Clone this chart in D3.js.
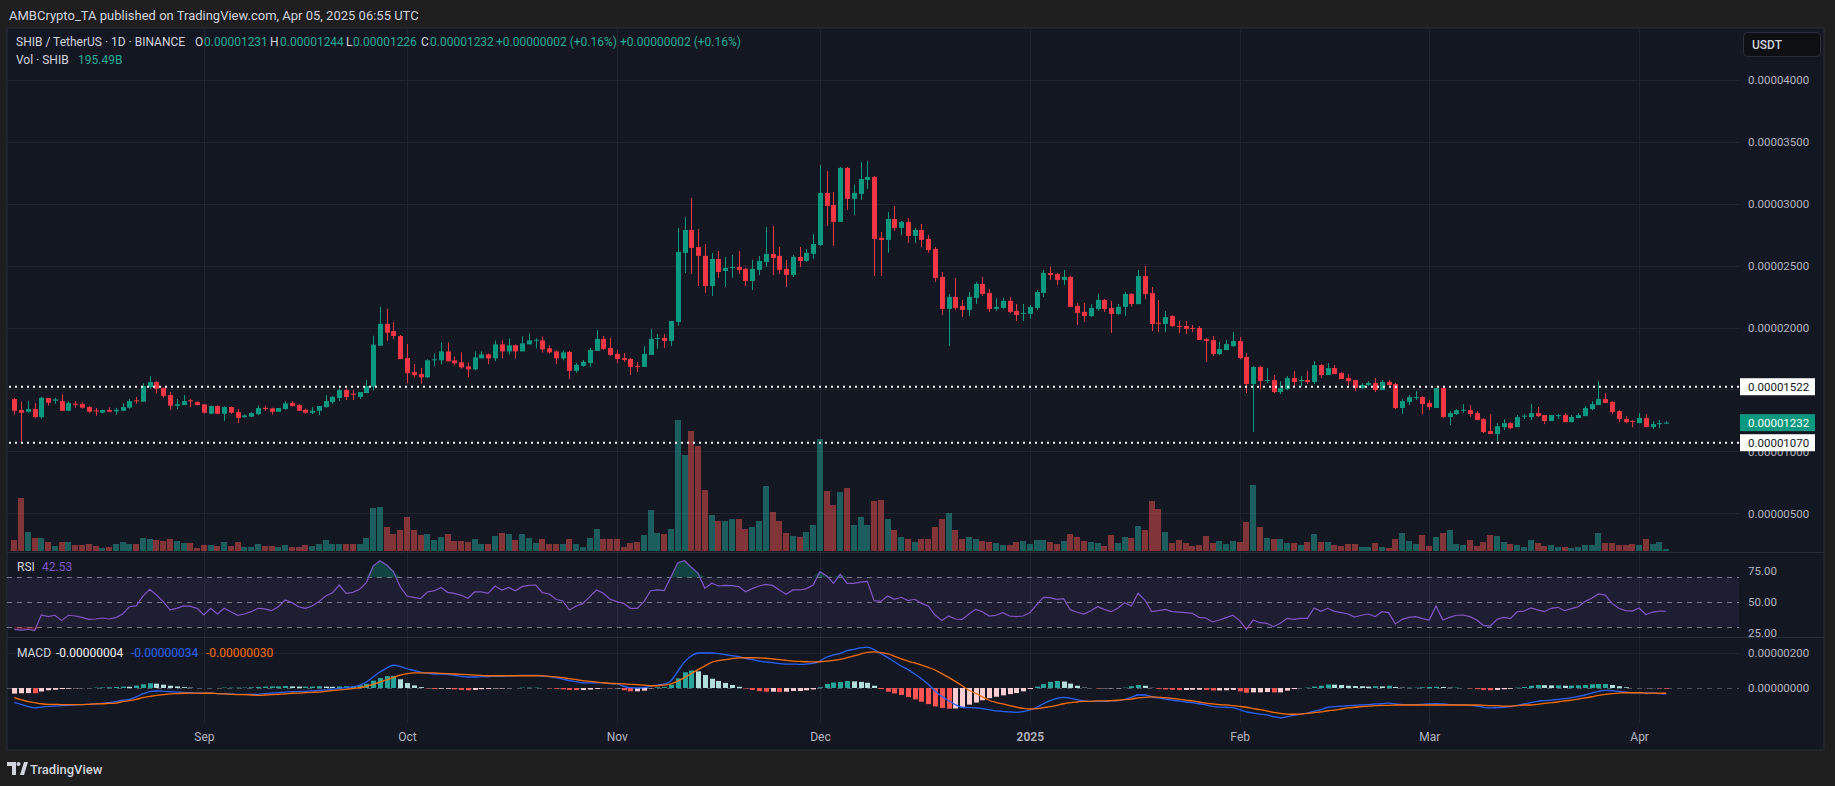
<!DOCTYPE html>
<html>
<head>
<meta charset="utf-8">
<script src="https://cdn.jsdelivr.net/npm/d3@7"></script>
<style>
  body { margin: 0; background: #1e1e1e; overflow: hidden; }
  svg text { font-family: Roboto, "Liberation Sans", sans-serif; }
</style>
</head>
<body>
<svg id="chart"></svg>
<script>
// prices in 1e-6 USDT, one candle per day from Aug 4 2024
var opens = [
  14.22,13.34,13.20,13.42,12.77,14.31,14.09,14.06,13.28,13.85, 13.82,13.58,13.31,13.12,13.34,13.23,13.28,13.53,14.12,14.01,
  15.19,15.60,15.11,14.55,13.69,13.74,14.12,13.98,13.79,13.04, 13.66,13.04,13.58,13.17,12.77,12.80,13.01,13.52,13.47,13.20,
  13.42,13.90,13.74,13.36,13.12,13.28,13.58,13.98,14.31,14.95, 14.66,14.39,14.71,15.22,18.53,20.30,19.71,19.31,17.53,16.40,
  16.24,15.98,17.35,17.35,18.07,17.35,17.19,16.86,16.62,17.51, 17.83,17.51,18.64,18.07,18.56,18.07,18.64,18.93,18.96,18.32,
  18.07,17.51,18.03,16.50,16.90,17.14,18.11,19.08,18.35,17.87, 17.54,17.46,16.90,16.82,17.79,19.08,19.16,18.92,20.45,26.02,
  27.87,26.50,25.78,23.35,25.53,24.56,24.81,24.89,24.73,23.76, 24.65,25.29,25.94,25.78,24.73,24.24,25.70,25.37,25.94,26.66,
  30.86,29.89,28.52,32.88,30.38,30.78,31.91,32.15,27.23,27.07, 28.76,28.04,28.52,27.39,27.87,27.15,26.34,24.08,21.50,22.47,
  21.74,21.42,22.39,23.52,22.79,21.50,21.58,22.15,21.34,21.10, 21.10,21.58,22.79,24.40,24.32,23.84,24.08,21.74,21.26,20.93,
  21.50,22.23,21.58,21.10,21.66,22.70,21.89,24.15,22.78,20.39, 20.28,20.92,20.12,20.12,19.96,19.96,19.07,18.99,17.86,18.18,
  18.50,18.91,17.62,15.44,16.81,15.68,15.76,14.79,15.03,15.92, 15.68,15.76,15.60,16.97,16.16,16.73,16.32,15.92,15.76,15.11,
  15.36,15.52,14.95,15.60,15.44,13.50,13.98,14.30,14.38,13.90, 13.50,15.11,12.77,13.01,13.28,13.33,13.09,12.61,11.64,11.40,
  11.96,12.28,11.96,12.80,12.77,13.09,12.93,12.45,12.85,12.93, 12.36,12.69,12.85,13.41,13.74,14.22,13.98,13.25,12.61,12.47,
  12.28,12.69,11.96,12.20,12.31
];
var highs = [
  14.31,14.01,14.06,13.90,14.41,14.31,14.33,14.60,14.04,14.06, 13.96,13.66,13.50,13.39,13.55,13.52,13.88,14.22,14.39,15.49,
  16.08,15.68,15.17,14.79,14.22,14.55,14.25,14.04,13.82,13.71, 13.71,13.66,13.61,13.42,13.01,13.17,13.69,13.69,13.52,13.50,
  14.04,14.06,13.82,13.45,13.58,13.66,14.55,14.47,15.06,15.06, 14.95,14.79,15.76,19.34,21.67,21.51,20.44,19.39,18.66,17.05,
  16.72,17.43,17.91,18.80,18.80,17.67,18.00,17.19,18.07,18.07, 17.91,18.96,18.96,19.12,18.64,19.28,19.52,19.12,19.28,18.56,
  18.15,18.15,18.11,17.14,17.38,18.35,19.80,19.32,19.16,18.19, 17.95,17.54,17.22,18.51,19.88,19.48,19.48,20.53,28.04,28.92,
  30.46,27.95,26.74,26.02,26.18,25.70,25.86,26.18,24.81,25.45, 25.78,28.12,28.20,26.50,25.45,25.86,26.50,26.34,27.55,33.12,
  32.64,30.94,32.96,32.96,31.51,33.36,33.44,32.23,27.71,29.33, 29.81,28.60,28.84,28.04,28.36,27.47,26.50,24.48,22.71,24.00,
  22.23,22.87,23.68,24.08,23.11,22.39,22.39,22.47,21.90,21.90, 21.82,23.03,24.65,24.89,24.40,24.65,24.16,21.98,21.98,21.90,
  22.71,22.31,22.15,21.90,22.87,22.78,24.64,24.96,23.26,22.22, 21.33,21.00,20.52,20.52,20.20,20.12,19.15,19.31,18.83,18.99,
  19.63,19.23,17.94,16.89,16.89,16.73,16.16,15.68,16.08,16.48, 16.08,16.48,17.29,17.05,17.13,16.97,16.40,16.24,15.76,15.52,
  15.68,15.92,15.76,15.76,15.52,14.23,14.54,14.87,14.46,14.14, 15.11,15.19,13.25,13.41,13.82,13.74,13.25,12.69,13.01,12.28,
  12.61,12.36,12.93,13.01,13.82,13.58,12.93,12.93,13.01,13.09, 12.93,13.09,13.66,14.06,15.67,14.70,14.06,13.33,12.85,12.53,
  13.09,13.01,12.45,12.53,12.44
];
var lows = [
  12.96,10.78,13.12,12.69,12.63,13.69,13.85,13.28,13.23,13.53, 13.45,13.12,12.88,13.09,13.18,12.96,13.26,13.45,13.85,14.01,
  15.06,14.66,14.33,13.36,13.42,13.74,13.58,13.71,13.04,13.04, 13.01,12.45,13.04,12.29,12.71,12.77,12.93,13.26,12.96,13.20,
  13.36,13.61,13.26,13.04,13.01,12.93,13.53,13.82,14.06,14.15, 14.15,14.22,14.71,14.92,18.53,18.93,19.07,17.45,15.51,15.98,
  15.46,15.90,16.86,17.03,17.27,16.94,16.70,15.98,16.54,17.51, 17.03,17.27,17.51,17.83,17.51,18.07,18.64,18.32,17.99,17.91,
  17.03,17.35,15.85,16.34,16.82,16.82,18.11,18.19,17.71,17.14, 17.22,16.17,16.41,16.82,17.79,18.27,18.35,18.51,20.13,24.40,
  24.32,23.35,22.79,22.55,24.00,23.27,24.00,24.32,23.35,23.03, 24.24,24.89,24.24,24.32,23.27,24.08,24.89,25.29,25.53,26.58,
  28.20,26.58,28.52,29.49,29.08,30.30,31.18,24.16,24.16,26.02, 27.79,27.47,26.83,26.83,26.50,26.02,23.68,21.01,18.51,21.42,
  20.85,20.93,21.90,22.55,21.26,21.34,21.50,21.18,20.53,20.53, 20.69,21.42,22.47,23.84,23.43,23.43,21.66,20.21,20.45,20.85,
  21.34,21.26,19.56,21.01,20.93,21.68,21.89,22.30,19.71,19.63, 19.63,20.04,19.55,19.47,19.63,18.99,17.21,17.70,17.78,18.18,
  18.42,17.45,14.71,11.56,15.03,15.52,14.71,14.63,14.95,15.19, 15.27,15.44,15.44,15.92,16.16,16.24,15.84,15.36,14.87,15.03,
  15.27,14.79,14.95,15.27,13.42,13.02,13.74,14.14,13.01,13.33, 13.50,12.69,12.12,12.93,13.09,12.80,12.53,11.48,11.40,10.83,
  11.72,11.80,11.96,12.61,12.53,12.77,12.20,12.45,12.61,12.36, 12.36,12.69,12.85,13.33,13.74,13.90,13.01,12.36,12.28,11.96,
  12.28,11.96,11.80,11.88,12.26
];
var closes = [
  13.28,13.12,13.42,12.77,14.33,13.93,14.20,13.28,13.90,13.77, 13.53,13.20,13.23,13.34,13.20,13.36,13.58,14.06,14.04,15.27,
  15.60,15.06,14.47,13.69,13.82,14.06,14.04,13.74,13.12,13.66, 13.04,13.58,13.12,12.71,12.90,13.09,13.50,13.42,13.20,13.50,
  13.88,13.66,13.28,13.12,13.28,13.66,14.06,14.41,14.95,14.39, 14.57,14.79,15.27,18.61,20.30,19.58,19.31,17.45,16.32,16.16,
  15.98,17.35,17.43,18.07,17.27,17.11,16.78,16.62,17.59,17.83, 17.51,18.64,18.07,18.56,18.07,18.72,18.96,19.01,18.24,17.99,
  17.51,17.99,16.50,16.98,17.22,18.19,19.08,18.27,17.79,17.46, 17.38,16.82,16.82,17.87,19.08,19.16,18.92,20.53,26.10,27.87,
  26.42,25.78,23.35,25.53,24.48,24.81,24.89,24.65,23.76,24.73, 25.37,25.94,25.61,24.65,24.24,25.70,25.37,26.02,26.74,30.86,
  29.81,28.52,32.88,30.38,30.86,31.99,32.15,27.15,27.07,28.76, 28.04,28.52,27.39,27.87,27.07,26.26,24.00,21.50,22.47,21.58,
  21.42,22.47,23.52,22.71,21.50,21.66,22.15,21.26,21.01,21.18, 21.66,22.87,24.40,24.24,23.84,24.08,21.66,21.18,20.93,21.58,
  22.23,21.50,21.10,21.66,22.71,21.89,24.15,22.70,20.28,20.31, 20.84,20.12,20.04,19.88,19.88,18.99,18.91,17.86,18.26,18.66,
  18.91,17.53,15.44,16.81,15.68,15.76,14.79,15.11,15.92,15.60, 15.76,15.60,16.97,16.16,16.73,16.24,15.84,15.68,15.11,15.36,
  15.52,14.95,15.60,15.36,13.50,14.06,14.38,14.38,13.82,13.58, 15.11,12.77,13.09,13.33,13.36,13.01,12.53,11.56,11.40,12.04,
  12.28,11.88,12.77,12.88,13.09,12.85,12.45,12.93,12.93,12.36, 12.77,12.93,13.50,13.82,14.22,13.90,13.17,12.61,12.36,12.39,
  12.69,11.96,12.20,12.28,12.32
];
// volume in trillions of SHIB
var volumes = [
  1.1,5.3,1.9,1.3,1.3,0.9,0.5,0.9,0.9,0.6, 0.6,0.7,0.5,0.3,0.4,0.7,0.9,0.7,0.7,1.3,
  1.2,1.1,1.0,1.2,1.0,0.8,0.8,0.3,0.6,0.6, 0.5,0.9,0.5,0.9,0.4,0.4,0.7,0.5,0.5,0.4,
  0.6,0.4,0.4,0.6,0.5,0.7,1.1,0.7,0.7,0.7, 0.7,0.7,1.3,4.3,4.4,2.4,1.7,2.1,3.4,2.1,
  1.6,1.7,1.1,1.4,1.7,1.0,1.0,0.9,1.2,0.7, 0.7,1.5,1.8,1.7,1.1,1.7,1.3,0.8,1.2,0.7,
  0.7,0.7,1.2,0.7,0.4,1.3,2.2,1.2,1.2,1.2, 0.4,0.8,0.9,1.6,4.1,1.8,1.7,2.2,13.1,9.6,
  12.0,10.5,6.1,3.6,3.0,3.0,3.2,3.2,2.2,2.4, 3.0,6.5,3.9,3.0,1.8,1.5,1.4,1.9,2.6,11.2,
  6.0,4.6,5.9,6.3,2.6,3.4,2.6,5.0,5.1,3.2, 2.1,1.4,1.2,0.9,1.2,1.2,2.4,3.2,3.8,2.1,
  1.2,1.4,1.2,1.0,0.9,0.8,0.6,0.6,0.9,1.0, 0.7,1.1,1.1,0.9,0.7,1.0,1.7,1.4,1.0,0.9,
  0.8,0.5,1.6,0.8,1.4,1.3,2.5,2.1,5.0,4.2, 1.9,0.8,1.1,0.8,0.5,0.6,1.5,0.8,1.0,0.7,
  1.0,0.9,2.9,6.6,2.4,1.3,1.2,1.2,0.8,0.8, 0.6,0.9,1.7,0.9,0.9,0.6,0.5,0.7,0.7,0.4,
  0.4,0.8,0.4,0.3,1.2,1.8,1.0,0.7,1.6,0.5, 1.4,1.8,2.1,0.7,0.6,1.1,0.5,0.9,1.6,1.5,
  0.9,0.7,0.6,0.4,1.1,0.8,0.5,0.6,0.4,0.4, 0.3,0.4,0.6,0.6,1.8,0.8,0.8,0.6,0.6,0.7,
  0.6,1.2,0.7,0.9,0.2
];
// RSI(14)
var rsiValues = [
  28.0,27.4,28.0,26.9,39.5,38.2,39.3,35.0,39.3,38.7, 37.6,36.0,36.3,37.1,36.3,37.4,40.3,46.2,46.8,54.8,
  60.2,55.6,50.3,43.6,44.9,46.8,46.5,44.9,39.5,44.9, 40.3,44.9,42.2,39.3,40.3,42.2,44.9,44.4,43.0,46.2,
  51.6,49.5,46.2,44.9,46.8,50.3,54.8,57.5,63.7,57.0, 57.8,60.2,65.6,79.0,83.3,79.8,74.5,62.4,54.8,53.8,
  52.7,58.1,58.9,61.8,57.8,57.0,55.4,53.0,58.1,58.1, 57.0,62.9,59.7,61.8,59.1,62.4,63.4,63.7,57.5,56.5,
  52.2,50.8,43.6,46.8,48.9,54.3,59.7,57.0,52.2,50.3, 48.9,44.9,44.9,50.3,59.1,59.7,59.1,70.4,81.7,83.3,
  78.0,73.1,61.0,65.1,62.9,63.4,63.2,62.4,58.3,60.8, 62.9,64.2,63.4,59.7,56.2,59.7,59.7,60.8,63.7,74.5,
  71.0,65.1,72.3,65.1,65.1,66.1,66.7,51.1,50.5,54.8, 52.2,53.8,51.1,52.2,48.9,46.8,39.5,35.0,38.7,36.3,
  36.0,40.3,44.1,42.2,38.7,39.3,41.4,38.7,38.2,38.7, 41.4,47.6,53.8,53.5,52.2,52.7,43.6,41.7,40.3,43.0,
  46.2,44.1,42.2,44.9,49.5,46.8,57.0,51.6,42.2,43.0, 44.1,42.2,41.9,41.4,40.9,37.6,37.1,33.9,35.5,37.4,
  39.3,35.0,28.0,35.5,33.3,32.8,30.1,32.8,36.8,36.0, 36.8,36.8,45.2,42.5,44.9,42.5,41.4,40.3,37.9,39.3,
  40.3,38.2,42.2,41.4,32.3,36.0,37.6,38.2,36.6,35.5, 46.8,35.5,37.6,39.3,39.5,38.2,35.5,31.2,30.6,36.0,
  37.6,36.6,42.2,42.7,45.2,43.6,42.2,44.9,45.7,43.0, 44.6,46.2,50.3,53.0,56.5,55.6,48.9,44.9,43.0,42.7,
  45.2,39.8,41.9,42.7,42.53
];
// MACD(12,26,9) in 1e-8 USDT
var macdLine = [
  -84,-93,-105,-114,-109,-105,-103,-101,-99,-97, -95,-93,-91,-88,-84,-78,-70,-65,-51,-34,
  -21,-17,-19,-21,-23,-25,-27,-29,-30,-30, -32,-32,-34,-36,-36,-36,-36,-32,-29,-27,
  -23,-21,-21,-19,-17,-13,-11,-8,-2,2, 6,17,34,63,91,114,130,124,110,101,
  91,84,80,80,78,72,67,63,63,65, 65,67,67,69,70,72,72,72,69,65,
  59,51,42,36,30,29,29,29,25,23, 10,2,0,2,11,17,23,42,95,149,
  183,200,200,200,196,191,185,179,170,162, 154,149,145,139,137,137,135,137,141,154,
  177,189,198,213,221,229,234,219,196,175, 150,126,105,80,53,21,-17,-48,-72,-95,
  -110,-112,-114,-118,-124,-131,-133,-137,-139,-135, -126,-110,-90,-72,-59,-53,-59,-67,-74,-76,
  -76,-76,-74,-72,-65,-53,-40,-40,-50,-57, -63,-69,-74,-80,-84,-90,-97,-105,-109,-110,
  -112,-124,-137,-143,-149,-154,-164,-170,-164,-156, -149,-143,-133,-124,-110,-107,-103,-101,-99,-97,
  -95,-91,-90,-86,-91,-95,-95,-95,-93,-91, -90,-91,-95,-95,-97,-99,-103,-110,-114,-112,
  -110,-107,-99,-91,-84,-76,-72,-69,-65,-61, -55,-48,-40,-29,-19,-13,-15,-19,-23,-27,
  -27,-29,-29,-32,-34
];
var signalLine = [
  -55,-67,-78,-84,-90,-93,-93,-95,-95,-95, -95,-93,-91,-90,-88,-86,-78,-72,-65,-55,
  -48,-42,-38,-34,-32,-30,-29,-29,-30,-30, -32,-34,-36,-38,-38,-40,-42,-40,-38,-36,
  -34,-30,-29,-27,-25,-23,-19,-15,-11,-8, -4,2,10,21,34,46,61,74,82,86,
  86,86,86,84,82,80,78,76,74,72, 70,70,70,70,70,70,70,70,69,67,
  63,59,53,48,42,38,34,30,27,25, 23,21,19,17,13,13,17,23,40,59,
  82,105,126,147,156,162,168,172,173,173, 172,170,166,162,158,154,152,150,149,150,
  154,158,164,173,183,194,204,206,202,196, 181,166,154,143,131,118,103,82,61,38,
  13,-13,-30,-51,-70,-82,-91,-101,-109,-116, -120,-118,-112,-107,-99,-90,-84,-80,-76,-76,
  -74,-74,-72,-70,-67,-63,-57,-53,-51,-53, -55,-59,-63,-69,-74,-80,-86,-91,-95,-97,
  -101,-105,-110,-118,-124,-131,-139,-145,-149,-150, -149,-145,-141,-137,-130,-126,-120,-114,-110,-107,
  -103,-101,-99,-99,-97,-97,-97,-97,-97,-97, -97,-97,-97,-97,-97,-97,-97,-99,-101,-101,
  -103,-103,-101,-97,-97,-93,-88,-84,-80,-74, -69,-63,-57,-50,-42,-36,-32,-29,-27,-27,
  -27,-29,-29,-30,-30
];
var histValues = [
  -32,-30,-29,-30,-20,-13,-10,-6,-4,-2, -1,0,2,3,4,6,8,7,14,21,
  27,25,19,13,9,5,2,0,0,0, 0,2,2,2,2,4,6,8,9,9,
  11,9,8,8,8,10,8,7,9,10, 10,15,24,42,57,68,69,50,28,15,
  5,-2,-6,-4,-4,-8,-11,-13,-11,-7, -5,-3,-3,-1,0,2,2,2,0,-2,
  -4,-8,-11,-12,-12,-9,-5,-1,-2,-2, -13,-19,-19,-15,-2,4,6,19,55,90,
  100,95,74,53,40,29,17,7,-3,-11, -18,-21,-21,-23,-21,-17,-17,-13,-8,4,
  23,31,34,40,38,35,30,13,-6,-21, -31,-40,-52,-65,-78,-92,-105,-114,-118,-117,
  -110,-95,-83,-70,-58,-50,-42,-35,-29,-19, -6,8,22,35,40,37,25,13,2,0,
  -2,-2,-2,-2,2,10,17,13,1,-4, -8,-10,-11,-11,-10,-10,-11,-14,-14,-13,
  -11,-19,-27,-25,-25,-23,-25,-25,-15,-6, 0,2,8,13,20,19,17,13,11,10,
  8,10,9,13,6,2,2,2,4,6, 7,6,2,2,0,-2,-6,-11,-13,-11,
  -7,-4,2,6,13,17,16,15,15,13, 14,15,17,21,23,23,17,10,4,0,
  0,-1,-1,-2,-4
];

var priceTicks = [5, 10, 15, 20, 25, 30, 35, 40];
var priceTickLabels = [5, 10, 20, 25, 30, 35, 40]; // 0.000015 sits under the level tag
var rsiTicks = [25, 50, 75];
var macdTicks = [0, 200];
var monthStarts = ["2024-09-01", "2024-10-01", "2024-11-01", "2024-12-01", "2025-01-01", "2025-02-01", "2025-03-01", "2025-04-01"];
var levels = [15.22, 10.70];
var lastClose = 12.32;

var svgWidth = 1835;
var svgHeight = 786;

var panel = { left: 7, top: 28, right: 1824, bottom: 750 };
var plotRight = 1739;
var pricePane = { top: 28, bottom: 552 };
var rsiPane = { top: 552, bottom: 637 };
var macdPane = { top: 637, bottom: 723 };

var upColor = "#089981", downColor = "#f23645";
var textColor = "#b2b5be";

var svg = d3.select("#chart")
  .attr("width", svgWidth)
  .attr("height", svgHeight);

// dates
var dates = d3.utcDay.range(new Date(Date.UTC(2024, 7, 4)), new Date(Date.UTC(2025, 3, 6)));
var candles = dates.map(function(d, i) {
  return { date: d, o: opens[i], h: highs[i], l: lows[i], c: closes[i], v: volumes[i] };
});

// scales
var xScale = d3.scaleUtc()
  .domain([dates[0], dates[dates.length - 1]])
  .range([14.3, 1666.2]);
var yPrice = d3.scaleLinear().domain([0, 40]).range([575.3, 79.7]);
var yVol = d3.scaleLinear().domain([0, d3.max(volumes)]).range([551, 420]);
var yRsi = d3.scaleLinear().domain([25, 75]).range([633, 571]);
var yMacd = d3.scaleLinear().domain([0, 200]).range([688, 653]);

// panel background
svg.append("rect")
  .attr("x", panel.left).attr("y", panel.top)
  .attr("width", panel.right - panel.left).attr("height", panel.bottom - panel.top)
  .attr("fill", "#131722")
  .attr("stroke", "#2a2e39");

var defs = svg.append("defs");
defs.append("clipPath").attr("id", "clipPrice")
  .append("rect")
  .attr("x", panel.left).attr("y", pricePane.top)
  .attr("width", plotRight - panel.left).attr("height", pricePane.bottom - pricePane.top);
defs.append("clipPath").attr("id", "clipRsi")
  .append("rect")
  .attr("x", panel.left).attr("y", rsiPane.top + 1)
  .attr("width", plotRight - panel.left).attr("height", rsiPane.bottom - rsiPane.top - 1);

// grid
var grid = svg.append("g");
grid.selectAll(".hgrid")
  .data(priceTicks)
  .enter()
  .append("line")
  .attr("x1", panel.left).attr("x2", plotRight)
  .attr("y1", d => Math.round(yPrice(d)) + 0.5).attr("y2", d => Math.round(yPrice(d)) + 0.5)
  .attr("stroke", "#1f2330");
grid.selectAll(".vgrid")
  .data(monthStarts)
  .enter()
  .append("line")
  .attr("x1", d => Math.round(xScale(new Date(d))) + 0.5)
  .attr("x2", d => Math.round(xScale(new Date(d))) + 0.5)
  .attr("y1", panel.top).attr("y2", macdPane.bottom)
  .attr("stroke", "#1f2330");
grid.append("line")
  .attr("x1", panel.left).attr("x2", plotRight)
  .attr("y1", Math.round(yMacd(200)) + 0.5).attr("y2", Math.round(yMacd(200)) + 0.5)
  .attr("stroke", "#1f2330");

// pane separators
[rsiPane.top, macdPane.top].forEach(function(y) {
  svg.append("line")
    .attr("x1", panel.left).attr("x2", panel.right)
    .attr("y1", y + 0.5).attr("y2", y + 0.5)
    .attr("stroke", "#2a2e39");
});

// volume
var priceGroup = svg.append("g").attr("clip-path", "url(#clipPrice)");
priceGroup.selectAll(".vol")
  .data(candles)
  .enter()
  .append("rect")
  .attr("x", d => Math.round(xScale(d.date)) - 3)
  .attr("y", d => yVol(d.v))
  .attr("width", 6)
  .attr("height", d => yVol(0) - yVol(d.v))
  .attr("fill", d => d.c >= d.o ? "#26a69a" : "#ef5350")
  .attr("opacity", 0.5);

// candles
var candleG = priceGroup.selectAll(".candle")
  .data(candles)
  .enter()
  .append("g");
candleG.append("line")
  .attr("x1", d => Math.round(xScale(d.date)) + 0.5)
  .attr("x2", d => Math.round(xScale(d.date)) + 0.5)
  .attr("y1", d => yPrice(d.h))
  .attr("y2", d => yPrice(d.l))
  .attr("stroke", d => d.c >= d.o ? upColor : downColor);
candleG.append("rect")
  .attr("x", d => Math.round(xScale(d.date)) - 2)
  .attr("y", d => yPrice(Math.max(d.o, d.c)))
  .attr("width", 5)
  .attr("height", d => Math.max(1, Math.abs(yPrice(d.o) - yPrice(d.c))))
  .attr("fill", d => d.c >= d.o ? upColor : downColor);

// support / resistance dotted lines
svg.selectAll(".level")
  .data(levels)
  .enter()
  .append("line")
  .attr("x1", panel.left + 2).attr("x2", plotRight)
  .attr("y1", d => yPrice(d)).attr("y2", d => yPrice(d))
  .attr("stroke", "#ffffff")
  .attr("stroke-width", 2)
  .attr("stroke-dasharray", "2,4");

// price axis
var priceAxis = svg.append("g")
  .attr("transform", "translate(1748,0)")
  .call(d3.axisRight(yPrice).tickValues(priceTickLabels).tickSize(0).tickPadding(0)
    .tickFormat(d => (d / 1e6).toFixed(8)));
priceAxis.select(".domain").remove();
priceAxis.selectAll("text")
  .attr("fill", textColor)
  .attr("font-size", "11.5px")
  .attr("font-family", "Roboto, sans-serif");

// price labels
function priceLabel(value, bg, fg) {
  var y = yPrice(value);
  svg.append("rect")
    .attr("x", 1740).attr("y", y - 8.5)
    .attr("width", 75).attr("height", 17)
    .attr("fill", bg);
  svg.append("text")
    .attr("x", 1748).attr("y", y + 4)
    .attr("fill", fg)
    .attr("font-size", "11.5px")
    .text((value / 1e6).toFixed(8));
}
priceLabel(levels[0], "#ffffff", "#131722");
priceLabel(lastClose, "#089981", "#ffffff");
priceLabel(levels[1], "#ffffff", "#131722");

// USDT box
svg.append("rect")
  .attr("x", 1743.5).attr("y", 32.5)
  .attr("width", 77).attr("height", 24).attr("rx", 4)
  .attr("fill", "#0e0f12").attr("stroke", "#2a2e39");
svg.append("text")
  .attr("x", 1752).attr("y", 49)
  .attr("fill", "#d1d4dc").attr("font-size", "12px").attr("font-weight", 500)
  .text("USDT");

// RSI pane
svg.append("rect")
  .attr("x", panel.left + 1).attr("y", yRsi(70))
  .attr("width", plotRight - panel.left - 1).attr("height", yRsi(30) - yRsi(70))
  .attr("fill", "#7e57c2").attr("opacity", 0.1);
[70, 50, 30].forEach(function(v) {
  svg.append("line")
    .attr("x1", panel.left).attr("x2", plotRight)
    .attr("y1", Math.round(yRsi(v)) + 0.5).attr("y2", Math.round(yRsi(v)) + 0.5)
    .attr("stroke", "#787b86").attr("stroke-dasharray", "5,5");
});
var rsiGroup = svg.append("g").attr("clip-path", "url(#clipRsi)");
// overbought / oversold fills
rsiGroup.append("path")
  .datum(rsiValues)
  .attr("fill", "#089981").attr("opacity", 0.35)
  .attr("d", d3.area().x((d, i) => xScale(dates[i])).y0(yRsi(70)).y1(d => yRsi(Math.max(d, 70))));
rsiGroup.append("path")
  .datum(rsiValues)
  .attr("fill", "#f23645").attr("opacity", 0.3)
  .attr("d", d3.area().x((d, i) => xScale(dates[i])).y0(yRsi(30)).y1(d => yRsi(Math.min(d, 30))));
rsiGroup.append("path")
  .datum(rsiValues)
  .attr("fill", "none")
  .attr("stroke", "#7e57c2")
  .attr("stroke-width", 1.2)
  .attr("d", d3.line().x((d, i) => xScale(dates[i])).y(d => yRsi(d)));
var rsiAxis = svg.append("g")
  .attr("transform", "translate(1748,0)")
  .call(d3.axisRight(yRsi).tickValues(rsiTicks).tickSize(0).tickPadding(0).tickFormat(d => d.toFixed(2)));
rsiAxis.select(".domain").remove();
rsiAxis.selectAll("text").attr("fill", textColor).attr("font-size", "11.5px").attr("font-family", "Roboto, sans-serif");

// MACD pane
svg.append("line")
  .attr("x1", panel.left).attr("x2", plotRight)
  .attr("y1", Math.round(yMacd(0)) + 0.5).attr("y2", Math.round(yMacd(0)) + 0.5)
  .attr("stroke", "#787b86").attr("stroke-dasharray", "5,5").attr("opacity", 0.6);
svg.selectAll(".hist")
  .data(histValues)
  .enter()
  .append("rect")
  .attr("x", (d, i) => Math.round(xScale(dates[i])) - 2)
  .attr("y", d => Math.min(yMacd(d), yMacd(0)))
  .attr("width", 5)
  .attr("height", d => Math.abs(yMacd(d) - yMacd(0)))
  .attr("fill", function(d, i) {
    var prev = i > 0 ? histValues[i - 1] : d;
    if (d >= 0) return d >= prev ? "#26a69a" : "#b2dfdb";
    return d >= prev ? "#ffcdd2" : "#ff5252";
  });
svg.append("path")
  .datum(macdLine)
  .attr("fill", "none").attr("stroke", "#2962ff").attr("stroke-width", 1.3)
  .attr("d", d3.line().curve(d3.curveMonotoneX).x((d, i) => xScale(dates[i])).y(d => yMacd(d)));
svg.append("path")
  .datum(signalLine)
  .attr("fill", "none").attr("stroke", "#ff6d00").attr("stroke-width", 1.3)
  .attr("d", d3.line().curve(d3.curveMonotoneX).x((d, i) => xScale(dates[i])).y(d => yMacd(d)));
var macdAxis = svg.append("g")
  .attr("transform", "translate(1748,0)")
  .call(d3.axisRight(yMacd).tickValues(macdTicks).tickSize(0).tickPadding(0).tickFormat(d => (d / 1e8).toFixed(8)));
macdAxis.select(".domain").remove();
macdAxis.selectAll("text").attr("fill", textColor).attr("font-size", "11.5px").attr("font-family", "Roboto, sans-serif");

// time axis
var timeAxis = svg.append("g")
  .attr("transform", `translate(0, ${macdPane.bottom})`)
  .call(d3.axisBottom(xScale)
    .tickValues(monthStarts.map(d => new Date(d)))
    .tickSize(0).tickPadding(9)
    .tickFormat(d => d.getUTCMonth() === 0 ? d3.utcFormat("%Y")(d) : d3.utcFormat("%b")(d)));
timeAxis.select(".domain").remove();
timeAxis.selectAll("text")
  .attr("fill", textColor)
  .attr("font-size", "12px")
  .attr("font-family", "Roboto, sans-serif")
  .attr("font-weight", d => d.getUTCMonth() === 0 ? 600 : 400);

// header
svg.append("text")
  .attr("x", 9).attr("y", 20)
  .attr("fill", "#d1d4dc").attr("font-size", "13px")
  .text("AMBCrypto_TA published on TradingView.com, Apr 05, 2025 06:55 UTC");

var legend = svg.append("text").attr("y", 46).attr("font-size", "12px");
var legendParts = [
  [16, "#d1d4dc", "SHIB / TetherUS · 1D · BINANCE"],
  [195, "#d1d4dc", "O"], [204, "#22ab94", "0.00001231"],
  [270, "#d1d4dc", "H"], [280, "#22ab94", "0.00001244"],
  [346, "#d1d4dc", "L"], [353, "#22ab94", "0.00001226"],
  [421, "#d1d4dc", "C"], [430, "#22ab94", "0.00001232"],
  [496, "#22ab94", "+0.00000002 (+0.16%)"],
  [620, "#22ab94", "+0.00000002 (+0.16%)"]
];
legendParts.forEach(function(p) {
  legend.append("tspan").attr("x", p[0]).attr("fill", p[1]).text(p[2]);
});
var volLegend = svg.append("text").attr("y", 64).attr("font-size", "12px");
volLegend.append("tspan").attr("x", 16).attr("fill", "#d1d4dc").text("Vol · SHIB");
volLegend.append("tspan").attr("x", 78).attr("fill", "#22ab94").text("195.49B");

var rsiLegend = svg.append("text").attr("y", 571).attr("font-size", "12px");
rsiLegend.append("tspan").attr("x", 17).attr("fill", "#d1d4dc").text("RSI");
rsiLegend.append("tspan").attr("x", 42).attr("fill", "#7e57c2").text("42.53");

var macdLegend = svg.append("text").attr("y", 657).attr("font-size", "12px");
macdLegend.append("tspan").attr("x", 17).attr("fill", "#d1d4dc").text("MACD");
macdLegend.append("tspan").attr("x", 56).attr("fill", "#f5f5f5").text("-0.00000004");
macdLegend.append("tspan").attr("x", 131).attr("fill", "#2962ff").text("-0.00000034");
macdLegend.append("tspan").attr("x", 206).attr("fill", "#ff6d00").text("-0.00000030");

// footer logo
var logo = svg.append("g").attr("transform", "translate(7,762)").attr("fill", "#d1d4dc");
logo.append("path").attr("d", "M0 0 H9 V13 H5 V4 H0 Z");
logo.append("circle").attr("cx", 11.5).attr("cy", 2).attr("r", 2);
logo.append("path").attr("d", "M13 13 L17 0 H21 L17 13 Z");
svg.append("text")
  .attr("x", 30).attr("y", 774)
  .attr("fill", "#d1d4dc").attr("font-size", "13px").attr("font-weight", 500)
  .text("TradingView");
</script>
</body>
</html>
